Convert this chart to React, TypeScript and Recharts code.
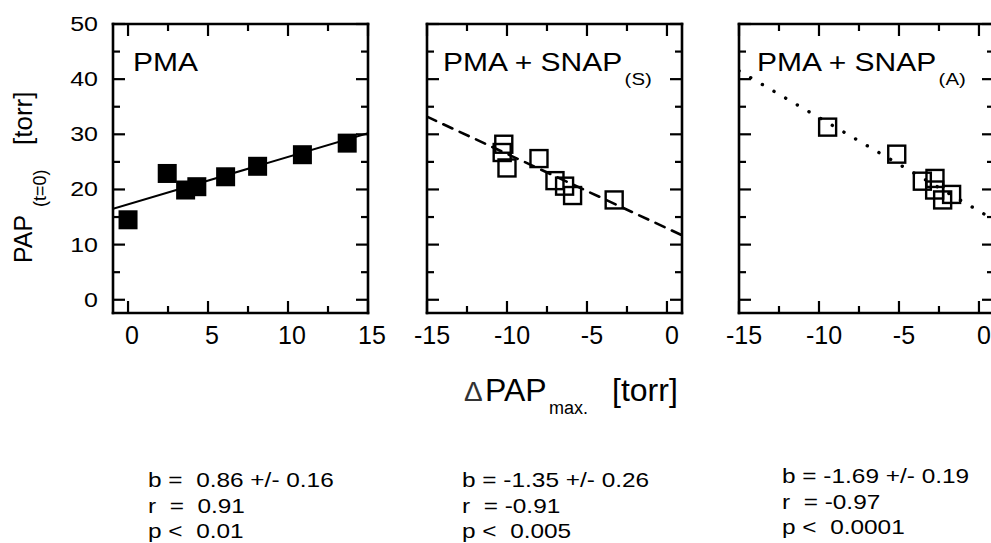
import { ScatterChart, Scatter, XAxis, YAxis } from 'recharts';

// panel 1: PMA (filled squares)
const pmaX = [0, 2.45, 3.6, 4.3, 6.1, 8.1, 10.9, 13.7];
const pmaY = [14.5, 22.9, 19.9, 20.5, 22.3, 24.2, 26.3, 28.4];
const pmaFitX = [-0.94, 15];
const pmaFitY = [16.5, 30.2];

// panel 2: PMA + SNAP(S)
const snapSX = [-10.2, -10.3, -10.0, -8.0, -7.0, -6.4, -5.9, -3.3];
const snapSY = [28.2, 26.7, 23.9, 25.6, 21.6, 20.6, 18.9, 18.1];
const snapSFitX = [-15, 0.94];
const snapSFitY = [33.2, 11.7];

// panel 3: PMA + SNAP(A)
const snapAX = [-9.46, -5.14, -3.54, -2.75, -2.77, -2.27, -1.71];
const snapAY = [31.3, 26.4, 21.5, 22.0, 19.9, 18.1, 19.1];
const snapAFitX = [-15, 0.94];
const snapAFitY = [41.5, 14.5];

const posTicks = [0, 2.5, 5, 7.5, 10, 12.5, 15];
const negTicks = [-15, -12.5, -10, -7.5, -5, -2.5, 0];
const yTicks = [0, 5, 10, 15, 20, 25, 30, 35, 40, 45, 50];

const titles = ['PMA', 'PMA + SNAP', 'PMA + SNAP'];
const titleSubs = ['', '(S)', '(A)'];
const stats = [
  ['b =  0.86 +/- 0.16', 'r  =  0.91', 'p <  0.01'],
  ['b = -1.35 +/- 0.26', 'r  = -0.91', 'p <  0.005'],
  ['b = -1.69 +/- 0.19', 'r  = -0.97', 'p <  0.0001'],
];

const FONT = '"Liberation Sans", Arial, sans-serif';
const zip = (xs: number[], ys: number[]) => xs.map((x, i) => ({ x, y: ys[i] }));
const axisStyle = { stroke: '#000', strokeWidth: 2.6, strokeLinecap: 'square' as const };

type Side = 'left' | 'right' | 'top' | 'bottom';

// inward ticks, major ones longer; labels drawn here so they can be stretched a bit
const makeTick = (side: Side, step: number, labeled: boolean, dx = 0) => (props: any) => {
  const { x, y, payload } = props;
  const v = payload.value as number;
  const major = Math.abs(v / step - Math.round(v / step)) < 1e-6;
  const len = major ? 12 : 7;
  let line;
  if (side === 'left') line = <line x1={x} y1={y} x2={x + len} y2={y} />;
  else if (side === 'right') line = <line x1={x} y1={y} x2={x - len} y2={y} />;
  else if (side === 'bottom') line = <line x1={x} y1={y} x2={x} y2={y - len} />;
  else line = <line x1={x} y1={y} x2={x} y2={y + len} />;
  let label = null;
  if (labeled && major) {
    if (side === 'left') {
      label = (
        <text transform={`translate(${x - 15},${y + 7}) scale(1.25,1)`} fontSize={20} textAnchor="end" fill="#000" stroke="none" fontFamily={FONT}>
          {v}
        </text>
      );
    } else if (side === 'bottom') {
      label = (
        <text x={x + dx} y={y + 31} fontSize={25} textAnchor="middle" fill="#000" stroke="none" fontFamily={FONT}>
          {v}
        </text>
      );
    }
  }
  return (
    <g stroke="#000" strokeWidth={2.2}>
      {line}
      {label}
    </g>
  );
};

const FilledSquare = (p: any) => <rect x={p.cx - 9.5} y={p.cy - 9.5} width={19} height={19} fill="#000" />;
const OpenSquare = (p: any) => (
  <rect x={p.cx - 8.5} y={p.cy - 8.5} width={17} height={17} fill="none" stroke="#000" strokeWidth={2.4} />
);
const NoShape = () => <g />;

interface PanelProps {
  left: number;
  width: number;
  yAxisWidth: number;
  marginRight: number;
  xDomain: [number, number];
  xTicks: number[];
  yLabels: boolean;
  points: { x: number; y: number }[];
  fit: { x: number; y: number }[];
  dash?: string;
  fitWidth: number;
  filled: boolean;
  labelDx: number;
}

function Panel(p: PanelProps) {
  return (
    <div style={{ position: 'absolute', left: p.left, top: 0 }}>
      <ScatterChart width={p.width} height={353} margin={{ top: 23, right: p.marginRight - 1, bottom: 0, left: 0 }}>
        <XAxis
          xAxisId="b"
          type="number"
          dataKey="x"
          orientation="bottom"
          domain={p.xDomain}
          ticks={p.xTicks}
          interval={0}
          allowDataOverflow
          height={40}
          tickSize={0}
          tickMargin={0}
          axisLine={axisStyle}
          tickLine={false}
          tick={makeTick('bottom', 5, true, p.labelDx)}
        />
        <XAxis
          xAxisId="t"
          type="number"
          dataKey="x"
          orientation="top"
          domain={p.xDomain}
          ticks={p.xTicks}
          interval={0}
          allowDataOverflow
          height={1}
          tickSize={0}
          tickMargin={0}
          axisLine={axisStyle}
          tickLine={false}
          tick={makeTick('top', 5, false)}
        />
        <YAxis
          yAxisId="l"
          type="number"
          dataKey="y"
          orientation="left"
          domain={[-2.4, 50]}
          ticks={yTicks}
          interval={0}
          allowDataOverflow
          width={p.yAxisWidth}
          tickSize={0}
          tickMargin={0}
          axisLine={axisStyle}
          tickLine={false}
          tick={makeTick('left', 10, p.yLabels)}
        />
        <YAxis
          yAxisId="r"
          type="number"
          dataKey="y"
          orientation="right"
          domain={[-2.4, 50]}
          ticks={yTicks}
          interval={0}
          allowDataOverflow
          width={1}
          tickSize={0}
          tickMargin={0}
          axisLine={axisStyle}
          tickLine={false}
          tick={makeTick('right', 10, false)}
        />
        <Scatter xAxisId="t" yAxisId="r" data={p.fit} shape={NoShape} isAnimationActive={false} />
        <Scatter
          xAxisId="b"
          yAxisId="l"
          data={p.fit}
          shape={NoShape}
          line={{ stroke: '#000', strokeWidth: p.fitWidth, strokeDasharray: p.dash, strokeLinecap: 'round' }}
          isAnimationActive={false}
        />
        <Scatter
          xAxisId="b"
          yAxisId="l"
          data={p.points}
          shape={p.filled ? FilledSquare : OpenSquare}
          isAnimationActive={false}
        />
      </ScatterChart>
    </div>
  );
}

export default function App() {
  const titleX = [133, 443, 757];
  const statX = [148, 462, 782];
  const statY = [487, 487, 483];
  return (
    <div
      style={{
        position: 'absolute',
        left: 0,
        top: 0,
        width: 991,
        height: 543,
        overflow: 'hidden',
        background: '#fff',
        fontFamily: FONT,
      }}
    >
      <Panel
        left={0}
        width={395}
        yAxisWidth={113}
        marginRight={27}
        xDomain={[-0.94, 15]}
        xTicks={posTicks}
        yLabels
        points={zip(pmaX, pmaY)}
        fit={zip(pmaFitX, pmaFitY)}
        fitWidth={2}
        filled
        labelDx={4}
      />
      <Panel
        left={400}
        width={300}
        yAxisWidth={27}
        marginRight={18}
        xDomain={[-15, 0.94]}
        xTicks={negTicks}
        yLabels={false}
        points={zip(snapSX, snapSY)}
        fit={zip(snapSFitX, snapSFitY)}
        dash="10 8"
        fitWidth={2.6}
        filled={false}
        labelDx={5}
      />
      <Panel
        left={712}
        width={300}
        yAxisWidth={27}
        marginRight={18}
        xDomain={[-15, 0.94]}
        xTicks={negTicks}
        yLabels={false}
        points={zip(snapAX, snapAY)}
        fit={zip(snapAFitX, snapAFitY)}
        dash="0.1 13.4"
        fitWidth={3.4}
        filled={false}
        labelDx={5}
      />
      <svg
        width={991}
        height={543}
        style={{ position: 'absolute', left: 0, top: 0, pointerEvents: 'none' }}
        fontFamily={FONT}
      >
        {titles.map((t, i) => (
          <text key={t + i} transform={`translate(${titleX[i]},71) scale(1.2,1)`} fontSize={25} fill="#000">
            <tspan>{t}</tspan>
            {titleSubs[i] && (
              <tspan fontSize={17} dx={2} dy={13.5}>
                {titleSubs[i]}
              </tspan>
            )}
          </text>
        ))}
        <text transform="translate(32,263) rotate(-90)" fill="#000">
          <tspan x={0} y={0} fontSize={25}>PAP</tspan>
          <tspan x={56} y={14} fontSize={18}>(t=0)</tspan>
          <tspan x={118} y={0} fontSize={26}>[torr]</tspan>
        </text>
        <text fill="#000">
          <tspan x={464} y={401} fontSize={28} fill="#333">{'\u0394'}</tspan>
          <tspan x={485} y={401} fontSize={32}>PAP</tspan>
          <tspan x={549} y={414} fontSize={18}>max.</tspan>
          <tspan x={612} y={401} fontSize={32}>[torr]</tspan>
        </text>
        {stats.map((col, i) =>
          col.map((s, j) => (
            <text
              key={s}
              transform={`translate(${statX[i]},${statY[i] + j * 25.5}) scale(1.22,1)`}
              fontSize={20}
              fill="#000"
              style={{ whiteSpace: 'pre' }}
            >
              {s}
            </text>
          ))
        )}
      </svg>
    </div>
  );
}
